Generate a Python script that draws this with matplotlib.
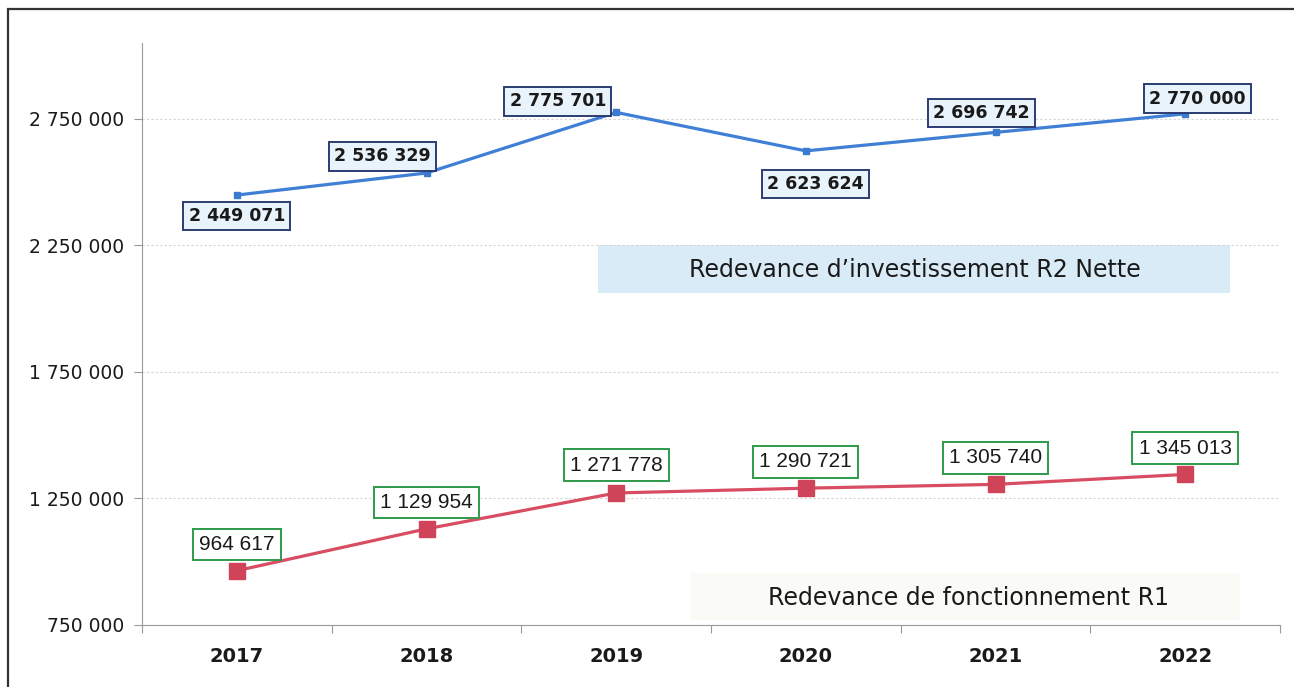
import matplotlib
matplotlib.use("Agg")
import matplotlib.pyplot as plt
from matplotlib.patches import Rectangle
from matplotlib.ticker import FuncFormatter, FixedLocator

# values
years = ["2017", "2018", "2019", "2020", "2021", "2022"]
r2_nette = [2449071, 2536329, 2775701, 2623624, 2696742, 2770000]
r1_fonct = [964617, 1129954, 1271778, 1290721, 1305740, 1345013]
y_ticks = [750000, 1250000, 1750000, 2250000, 2750000]

# label offsets (points) relative to each marker
r2_offsets = [(0, -15), (-32, 12), (-42, 8), (7, -24), (-10, 14), (9, 11)]
r1_offsets = [(0, 19), (0, 19), (0, 20), (0, 19), (0, 19), (0, 19)]


def fmt_fr(v, pos=None):
    return f"{int(round(v)):,}".replace(",", " ")


fig = plt.figure(figsize=(12.94, 6.87), dpi=100)
ax = fig.add_axes([142 / 1294, 1 - 625 / 687, (1280 - 142) / 1294, (625 - 43) / 687])
ax.patch.set_alpha(0)

x = list(range(len(years)))

ax.plot(x, r2_nette, color="#3f80d6", lw=2.3, marker="s", ms=4.5,
        mfc="#3a7bd0", mec="#3a7bd0", zorder=3)
ax.plot(x, r1_fonct, color="#d84d62", lw=2.3, marker="s", ms=11,
        mfc="#cf4459", mec="#cf4459", zorder=3)

for i in x:
    ax.annotate(fmt_fr(r2_nette[i]), (i, r2_nette[i]), xytext=r2_offsets[i],
                textcoords="offset points", ha="center", va="center",
                fontsize=12.5, fontweight="bold", family="DejaVu Sans", color="#1a1a1a",
                bbox=dict(boxstyle="square,pad=0.3", fc="#e9f3fb", ec="#2b3d72", lw=1.4),
                zorder=5)
    ax.annotate(fmt_fr(r1_fonct[i]), (i, r1_fonct[i]), xytext=r1_offsets[i],
                textcoords="offset points", ha="center", va="center",
                fontsize=15, family="Liberation Sans", color="#1a1a1a",
                bbox=dict(boxstyle="square,pad=0.3", fc="white", ec="#2f9a4a", lw=1.4),
                zorder=5)

ax.set_xlim(-0.5, len(years) - 0.5)
ax.set_ylim(750000, 3050000)

ax.yaxis.set_major_locator(FixedLocator(y_ticks))
ax.yaxis.set_major_formatter(FuncFormatter(fmt_fr))
ax.set_xticks(x)
ax.set_xticklabels(years)
ax.xaxis.set_minor_locator(FixedLocator([i - 0.5 for i in range(len(years) + 1)]))

ax.tick_params(axis="y", length=6, width=0.8, color="#999999", pad=7,
               labelsize=13.5, labelcolor="#1a1a1a")
ax.tick_params(axis="x", which="major", length=0, pad=16,
               labelsize=14, labelcolor="#1a1a1a")
ax.tick_params(axis="x", which="minor", length=6, width=0.8, color="#999999")
for lab in ax.get_xticklabels():
    lab.set_fontweight("bold")

ax.grid(axis="y", color="#d5d5d5", lw=0.8, ls=(0, (2, 2)))
ax.set_axisbelow(True)
for s in ["top", "right"]:
    ax.spines[s].set_visible(False)
ax.spines["left"].set_color("#999999")
ax.spines["bottom"].set_color("#999999")
ax.spines["left"].set_linewidth(0.8)
ax.spines["bottom"].set_linewidth(0.8)

# caption bands
fig.add_artist(Rectangle((598 / 1294, 1 - 293 / 687), 632 / 1294, 48 / 687,
                         transform=fig.transFigure, fc="#d9ebf7", ec="none", zorder=-1))
fig.text(915 / 1294, 1 - 270 / 687, "Redevance d\u2019investissement R2 Nette",
         ha="center", va="center", fontsize=17, color="#1a1a1a", zorder=2)
fig.add_artist(Rectangle((690 / 1294, 1 - 620 / 687), 550 / 1294, 47 / 687,
                         transform=fig.transFigure, fc="#fafaf7", ec="none", zorder=-1))
fig.text(968 / 1294, 1 - 598 / 687, "Redevance de fonctionnement R1",
         ha="center", va="center", fontsize=17, color="#1a1a1a", zorder=2)

# outer frame
fig.add_artist(Rectangle((8 / 1294, -0.05), 1.0, 1.05 - 9 / 687,
                         transform=fig.transFigure, fc="none", ec="#333333", lw=1.6))

fig.savefig("out.png", dpi=100)
